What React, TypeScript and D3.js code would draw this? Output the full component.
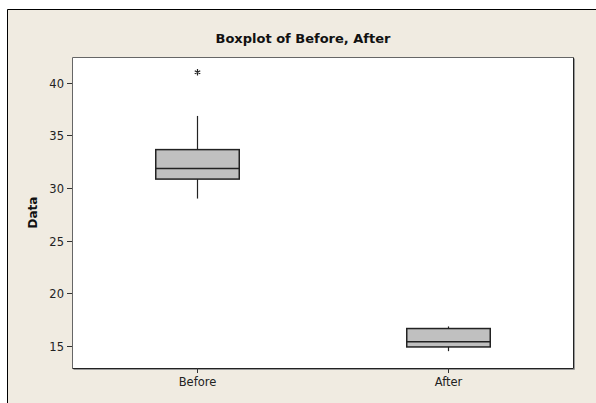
import * as d3 from 'd3'
import React, { useEffect, useRef } from 'react'

// summary values
const categories = ['Before', 'After']
const whiskerLow = [29, 14.5]
const q1 = [30.85, 14.9]
const median = [31.85, 15.4]
const q3 = [33.65, 16.65]
const whiskerHigh = [36.85, 16.85]
const outliers = [[41], []]
const yTicks = [15, 20, 25, 30, 35, 40]

const W = 596
const H = 403
const plot = { left: 72, top: 57, right: 573, bottom: 368 }
const font = 'DejaVu Sans, Verdana, sans-serif'

export default function App() {
  const ref = useRef<SVGSVGElement>(null)

  useEffect(() => {
    const svg = d3.select(ref.current)
    svg.selectAll('*').remove()

    const x = d3
      .scaleBand()
      .domain(categories)
      .range([plot.left, plot.right])
      .padding(0)
    const y = d3.scaleLinear().domain([12.9, 42.45]).range([plot.bottom, plot.top])

    // page background + outer frame
    svg.append('rect').attr('width', W).attr('height', H).attr('fill', '#fff')
    svg
      .append('rect')
      .attr('x', 7)
      .attr('y', 9)
      .attr('width', W - 7)
      .attr('height', H - 9)
      .attr('fill', '#f0ebe1')
    svg
      .append('path')
      .attr('d', `M7.5,${H}V9.5H${W}`)
      .attr('fill', 'none')
      .attr('stroke', '#000')

    // plot area
    svg
      .append('rect')
      .attr('x', plot.left)
      .attr('y', plot.top)
      .attr('width', plot.right - plot.left)
      .attr('height', plot.bottom - plot.top)
      .attr('fill', '#fff')
    svg
      .append('path')
      .attr('d', `M${plot.left + 1.5},${plot.bottom + 1.5}H${plot.right + 1.5}V${plot.top + 1.5}`)
      .attr('fill', 'none')
      .attr('stroke', '#999')
    svg
      .append('path')
      .attr('d', `M${plot.left + 0.5},${plot.bottom + 0.5}V${plot.top + 0.5}H${plot.right + 0.5}`)
      .attr('fill', 'none')
      .attr('stroke', '#666')
    svg
      .append('path')
      .attr('d', `M${plot.left + 0.5},${plot.bottom + 0.5}H${plot.right + 0.5}V${plot.top + 0.5}`)
      .attr('fill', 'none')
      .attr('stroke', '#222')

    // title
    svg
      .append('text')
      .attr('x', 303)
      .attr('y', 43)
      .attr('text-anchor', 'middle')
      .style('font-family', font)
      .style('font-weight', 'bold')
      .style('font-size', '13px')
      .attr('fill', '#111')
      .text('Boxplot of Before, After')

    // y axis
    const yAxis = svg.append('g')
    yTicks.forEach(t => {
      const yy = Math.round(y(t)) + 0.5
      yAxis
        .append('line')
        .attr('x1', plot.left - 5)
        .attr('x2', plot.left)
        .attr('y1', yy)
        .attr('y2', yy)
        .attr('stroke', '#333')
      yAxis
        .append('text')
        .attr('x', plot.left - 8)
        .attr('y', yy)
        .attr('dy', '0.36em')
        .attr('text-anchor', 'end')
        .style('font-family', font)
        .style('font-size', '11.5px')
        .attr('fill', '#222')
        .text(t)
    })
    svg
      .append('text')
      .attr('transform', `translate(37,${(plot.top + plot.bottom) / 2}) rotate(-90)`)
      .attr('text-anchor', 'middle')
      .style('font-family', font)
      .style('font-weight', 'bold')
      .style('font-size', '12px')
      .attr('fill', '#111')
      .text('Data')

    // x axis
    categories.forEach(c => {
      const cx = Math.round(x(c)! + x.bandwidth() / 2) + 0.5
      svg
        .append('line')
        .attr('x1', cx)
        .attr('x2', cx)
        .attr('y1', plot.bottom)
        .attr('y2', plot.bottom + 5)
        .attr('stroke', '#333')
      svg
        .append('text')
        .attr('x', cx)
        .attr('y', plot.bottom + 18)
        .attr('text-anchor', 'middle')
        .style('font-family', font)
        .style('font-size', '11.5px')
        .attr('fill', '#222')
        .text(c)
    })

    // boxes
    const boxW = x.bandwidth() / 3
    categories.forEach((c, i) => {
      const cx = Math.round(x(c)! + x.bandwidth() / 2) + 0.5
      const g = svg.append('g')
      g.append('line')
        .attr('x1', cx)
        .attr('x2', cx)
        .attr('y1', y(whiskerLow[i]))
        .attr('y2', y(whiskerHigh[i]))
        .attr('stroke', '#222')
        .attr('stroke-width', 1.2)
      g.append('rect')
        .attr('x', cx - boxW / 2)
        .attr('y', y(q3[i]))
        .attr('width', boxW)
        .attr('height', y(q1[i]) - y(q3[i]))
        .attr('fill', '#c0c0c0')
        .attr('stroke', '#222')
        .attr('stroke-width', 1.5)
      g.append('line')
        .attr('x1', cx - boxW / 2)
        .attr('x2', cx + boxW / 2)
        .attr('y1', y(median[i]))
        .attr('y2', y(median[i]))
        .attr('stroke', '#222')
        .attr('stroke-width', 1.5)
      outliers[i].forEach(v => {
        g.append('path')
          .attr('transform', `translate(${cx},${y(v)})`)
          .attr('d', d3.symbol().type(d3.symbolAsterisk).size(28)()!)
          .attr('fill', 'none')
          .attr('stroke', '#222')
          .attr('stroke-width', 1.2)
      })
    })
  }, [])

  return (
    <svg
      ref={ref}
      width={W}
      height={H}
      style={{ position: 'absolute', left: 0, top: 0 }}
    />
  )
}
